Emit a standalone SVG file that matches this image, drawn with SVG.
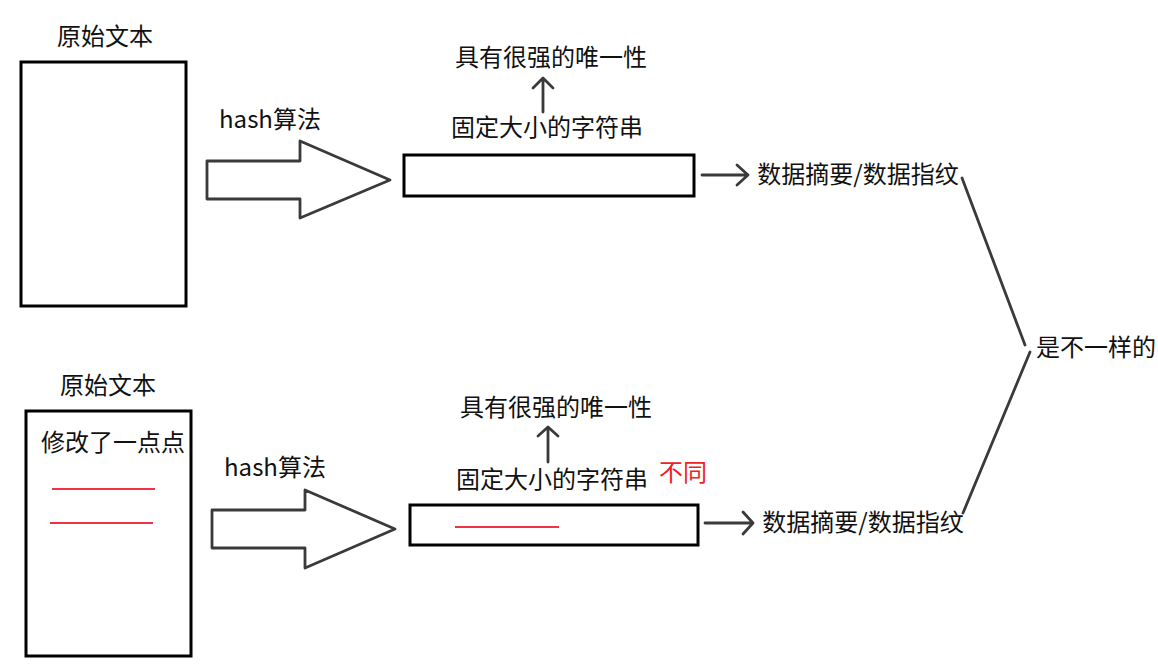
<svg xmlns="http://www.w3.org/2000/svg" width="1158" height="670" viewBox="0 0 1158 670">
  <style>
    text { font-family: "Noto Sans CJK SC", "Noto Sans", sans-serif; font-size: 24px; fill: #111; text-anchor: middle; }
    .red { fill: #ee2222; }
    .box { fill: #fff; stroke: #000; stroke-width: 3; }
    .big { fill: #fff; stroke: #3a3a3a; stroke-width: 2.8; stroke-linejoin: round; }
    .line { fill: none; stroke: #3a3a3a; stroke-width: 2.8; stroke-linecap: round; stroke-linejoin: round; }
    .redline { fill: none; stroke: #ee3344; stroke-width: 2.2; }
  </style>
  <rect width="1158" height="670" fill="#fff"/>

  <g id="orig1">
    <text x="105" y="45">原始文本</text>
    <rect class="box" x="21" y="62" width="165" height="244"/>
  </g>
  <g id="orig2">
    <text x="108" y="394">原始文本</text>
    <rect class="box" x="26" y="411" width="165" height="245"/>
    <text x="113" y="451">修改了一点点</text>
    <line class="redline" x1="52" y1="489" x2="155" y2="489"/>
    <line class="redline" x1="50" y1="523" x2="153" y2="523"/>
  </g>

  <g id="hash1">
    <text x="270" y="128">hash算法</text>
    <polygon class="big" points="207,161 300,161 300,141 390,180 300,218 300,199 207,199"/>
  </g>
  <g id="hash2">
    <text x="275" y="476">hash算法</text>
    <polygon class="big" points="212,510 305,510 305,490 395,529 305,568 305,548 212,548"/>
  </g>

  <g id="str1">
    <text x="551" y="66">具有很强的唯一性</text>
    <text x="547" y="136">固定大小的字符串</text>
    <rect class="box" x="404" y="155" width="290" height="41"/>
  </g>
  <g id="str2">
    <text x="556" y="416">具有很强的唯一性</text>
    <text x="552" y="488">固定大小的字符串</text>
    <text class="red" x="683" y="481">不同</text>
    <rect class="box" x="410" y="505" width="288" height="40"/>
    <line class="redline" x1="455" y1="527" x2="559" y2="527"/>
  </g>

  <g id="digest1">
    <text x="858" y="183">数据摘要/数据指纹</text>
  </g>
  <g id="digest2">
    <text x="863" y="531">数据摘要/数据指纹</text>
  </g>
  <g id="diff">
    <text x="1096" y="356">是不一样的</text>
  </g>

  <g id="connectors">
    <path class="line" d="M543,112 L543,79 M533,88 L543,78 L553,88"/>
    <path class="line" d="M548,462 L548,428 M538,436 L548,427 L558,436"/>
    <path class="line" d="M702,175 L748,175 M737,165 L748,175 L737,185"/>
    <path class="line" d="M705,523 L753,523 M743,512 L753,523 L743,534"/>
    <line class="line" x1="962" y1="178" x2="1025" y2="345"/>
    <line class="line" x1="1030" y1="352" x2="963" y2="513"/>
  </g>
</svg>
